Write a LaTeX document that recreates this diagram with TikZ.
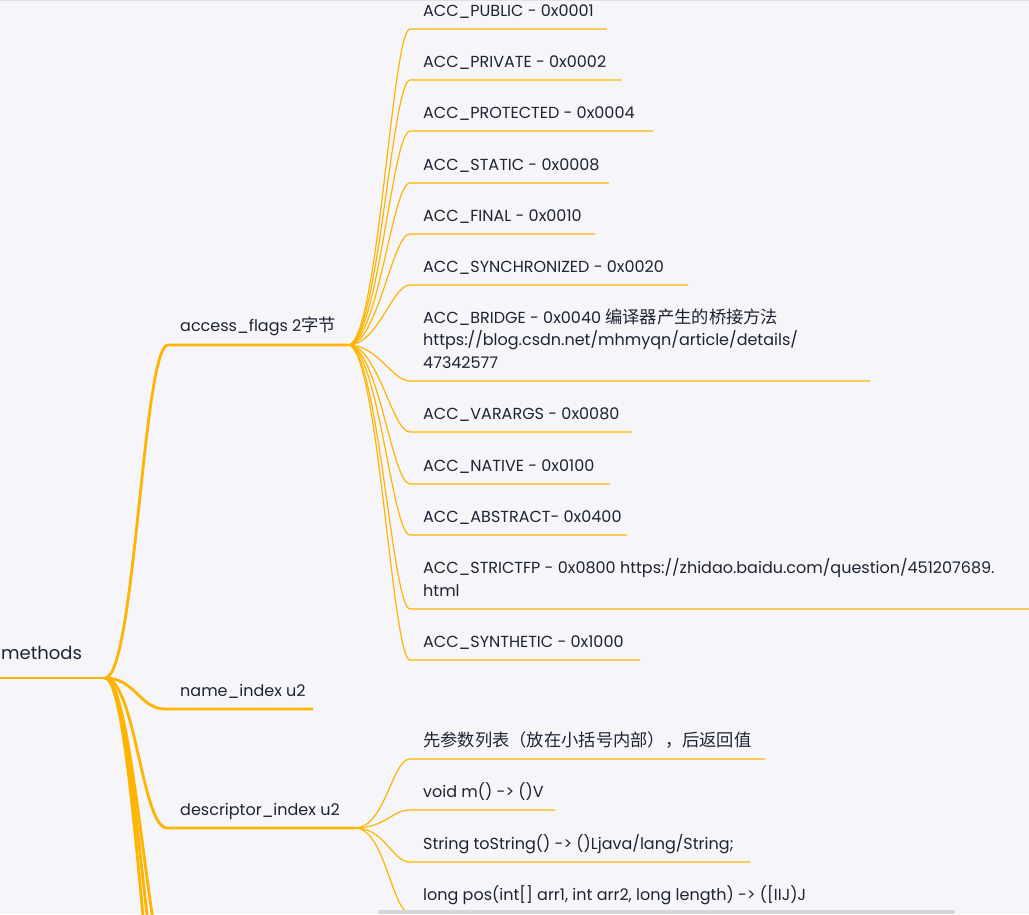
\documentclass[tikz,border=0pt]{standalone}
\usepackage{fontspec}
\setmainfont{Poppins}
\newfontfamily\cjk[Scale=1.08]{Noto Sans CJK SC}
\definecolor{bg}{HTML}{F5F5FA}
\definecolor{br}{HTML}{FFB400}
\definecolor{tx}{HTML}{1E2433}
\definecolor{bar}{HTML}{D6D6D8}
\definecolor{topline}{HTML}{E2E2E6}
\tikzset{
  topic/.style={anchor=base west, inner sep=0pt, font=\fontsize{16}{22.5}\selectfont, text=tx, align=left},
  rootlabel/.style={anchor=base west, inner sep=0pt, font=\fontsize{18}{22}\selectfont, text=tx},
  mainline/.style={draw=br, line width=2.8pt},
  subline/.style={draw=br, line width=1.2pt},
}
\begin{document}
\begin{tikzpicture}[x=1pt,y=-1pt]
\fill[bg] (0,0) rectangle (1029,914);
\useasboundingbox (0,0) rectangle (1029,914);
\clip (0,0) rectangle (1029,914);
\draw[topline, line width=1.2pt] (0,0.6) -- (1029,0.6);

% root
\node[rootlabel] (methods) at (1,659) {methods};
\coordinate (m0) at (0,678);
\coordinate (m1) at (105,678);
\draw[mainline] (m0) -- (m1);

% access_flags
\coordinate (a0) at (168,345);
\coordinate (a1) at (348,345);
\node[topic] (access) at (180,331) {access\_flags 2{\cjk 字节}};
\draw[mainline] (m1) .. controls +(30,0) and +(-25,0) .. (a0) -- (a1);

% name_index
\coordinate (n0) at (165,709);
\coordinate (n1) at (313,709);
\node[topic] (name) at (180,696) {name\_index u2};
\draw[mainline] (m1) .. controls +(30,0) and +(-25,0) .. (n0) -- (n1);

% descriptor_index
\coordinate (d0) at (167,828);
\coordinate (d1) at (355,828);
\node[topic] (desc) at (180,815) {descriptor\_index u2};
\draw[mainline] (m1) .. controls +(30,0) and +(-25,0) .. (d0) -- (d1);

% branches continuing below the view
\coordinate (o1) at (175,1000);
\coordinate (o2) at (175,1060);
\coordinate (o3) at (175,1130);
\draw[mainline] (m1) .. controls +(30,0) and +(-25,0) .. (o1);
\draw[mainline] (m1) .. controls +(30,0) and +(-25,0) .. (o2);
\draw[mainline] (m1) .. controls +(30,0) and +(-25,0) .. (o3);

% access_flags children
\foreach \nm/\ly/\ex/\txt in {
  pub/29/607/{ACC\_PUBLIC - 0x0001},
  pri/80/621/{ACC\_PRIVATE - 0x0002},
  pro/131/653/{ACC\_PROTECTED - 0x0004},
  sta/183/609/{ACC\_STATIC - 0x0008},
  fin/234/595/{ACC\_FINAL - 0x0010},
  syn/285/688/{ACC\_SYNCHRONIZED - 0x0020},
  var/432/632/{ACC\_VARARGS - 0x0080},
  nat/484/610/{ACC\_NATIVE - 0x0100},
  abs/535/627/{ACC\_ABSTRACT- 0x0400},
  sth/660/640/{ACC\_SYNTHETIC - 0x1000}}{
  \coordinate (\nm-s) at (410,\ly);
  \coordinate (\nm-e) at (\ex,\ly);
  \node[topic] (\nm) at (423,\ly-13) {\txt};
  \draw[subline] (a1) .. controls +(30,0) and +(-18,0) .. (\nm-s) -- (\nm-e);
}

\coordinate (bri-s) at (410,381);
\coordinate (bri-e) at (870,381);
\node[topic, anchor=south west] (bri) at (423,368.5) {ACC\_BRIDGE - 0x0040 {\cjk 编译器产生的桥接方法}\\https://blog.csdn.net/mhmyqn/article/details/\\47342577};
\draw[subline] (a1) .. controls +(30,0) and +(-18,0) .. (bri-s) -- (bri-e);

\coordinate (stf-s) at (410,609);
\coordinate (stf-e) at (1040,609);
\node[topic, anchor=south west] (stf) at (423,596.5) {ACC\_STRICTFP - 0x0800 https://zhidao.baidu.com/question/451207689.\\html};
\draw[subline] (a1) .. controls +(30,0) and +(-18,0) .. (stf-s) -- (stf-e);

% descriptor_index children
\foreach \nm/\ly/\ex/\txt in {
  rule/759/765/{{\cjk 先参数列表（放在小括号内部），后返回值}},
  vm/810/555/{void m() -> ()V},
  ts/862/750/{String toString() -> ()Ljava/lang/String;},
  lp/913/840/{long pos(int[] arr1, int arr2, long length) -> ([IIJ)J}}{
  \coordinate (\nm-s) at (410,\ly);
  \coordinate (\nm-e) at (\ex,\ly);
  \node[topic] (\nm) at (423,\ly-13) {\txt};
  \draw[subline] (d1) .. controls +(30,0) and +(-18,0) .. (\nm-s) -- (\nm-e);
}

% scrollbar
\fill[bar] (378,910) rectangle (955,914);
\end{tikzpicture}
\end{document}
